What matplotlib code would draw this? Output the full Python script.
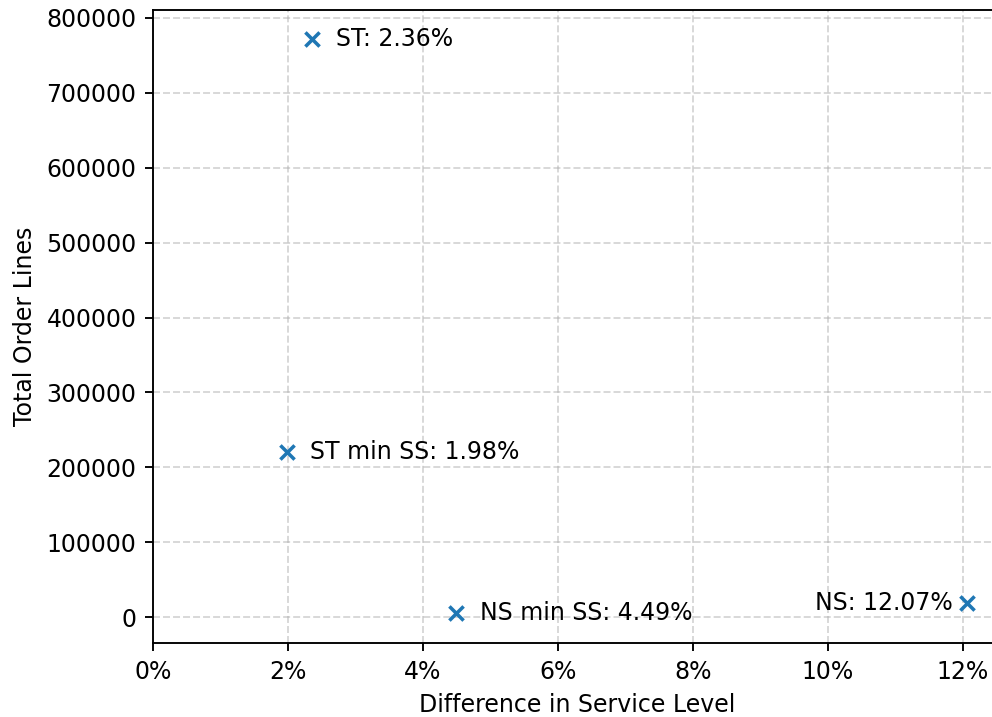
import matplotlib
matplotlib.use("Agg")
import matplotlib.pyplot as plt
from matplotlib.ticker import FuncFormatter

labels = ["NS", "NS min SS", "ST", "ST min SS"]
diff_pct = [12.07, 4.49, 2.36, 1.98]
order_lines = [18500, 5000, 772000, 221000]
label_side = ["left", "right", "right", "right"]

W, H, DPI = 992, 717, 170
fig = plt.figure(figsize=(W / DPI, H / DPI), dpi=DPI)
left, right, top, bottom = 153, 1001, 10, 643
ax = fig.add_axes([left / W, (H - bottom) / H, (right - left) / W, (bottom - top) / H])

ax.scatter(diff_pct, order_lines, marker="x", color="tab:blue", zorder=3)
for lab, x, y, side in zip(labels, diff_pct, order_lines, label_side):
    txt = f"{lab}: {x:.2f}%"
    if side == "right":
        ax.annotate(txt, (x, y), xytext=(10, 0), textcoords="offset points",
                    ha="left", va="center", fontsize=10)
    else:
        ax.annotate(txt, (x, y), xytext=(-6, 0), textcoords="offset points",
                    ha="right", va="center", fontsize=10)

ax.set_xlim(0, 12.57)
ax.set_ylim(-34400, 810400)
ax.set_xticks([0, 2, 4, 6, 8, 10, 12])
ax.xaxis.set_major_formatter(FuncFormatter(lambda v, p: f"{v:.0f}%"))
ax.ticklabel_format(axis="y", style="plain")
ax.grid(True, linestyle="--", alpha=0.5)
ax.set_axisbelow(True)
ax.set_xlabel("Difference in Service Level")
ax.set_ylabel("Total Order Lines")

fig.savefig("out.png", dpi=DPI)
